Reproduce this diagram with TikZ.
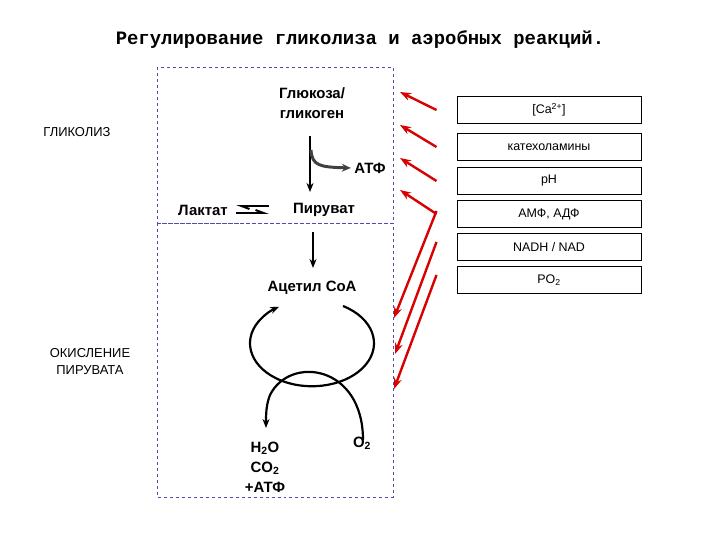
\documentclass[tikz,border=0pt]{standalone}
\usepackage{fontspec}
\setmainfont{Liberation Sans}
\newfontfamily\titlefont{Liberation Mono}
\usetikzlibrary{arrows.meta}
\begin{document}
\begin{tikzpicture}[x=1bp,y=-1bp,
  big/.style={font=\bfseries\fontsize{15}{17}\selectfont},
  fbox/.style={draw,line width=1pt,minimum width=184bp,minimum height=27bp,inner sep=0pt,font=\fontsize{12.5}{14}\selectfont},
  dbox/.style={draw=blue!40!gray,dashed,line width=0.8pt},
  red/.style={draw=red!85!black,line width=2.4pt,-{Stealth[length=11bp,width=8bp]}}]
\useasboundingbox (0,0) rectangle (720,540);
\node[font=\titlefont\bfseries\fontsize{19}{21}\selectfont] (title) at (360,40) {Регулирование гликолиза и аэробных реакций.};
\draw[dbox] (157,67) rectangle (393,223);
\draw[dbox] (157,223) rectangle (393,497);
\node[font=\fontsize{13}{15}\selectfont] (gl) at (77,132) {ГЛИКОЛИЗ};
\node[font=\fontsize{13}{17}\selectfont,align=center] (ox) at (90,362) {ОКИСЛЕНИЕ\\ПИРУВАТА};
\node[align=center,font=\bfseries\fontsize{15}{20}\selectfont] (glu) at (312,103) {Глюкоза/\\гликоген};
\node[big] (atp) at (370,168) {АТФ};
\node[big] (lac) at (203,210) {Лактат};
\node[big] (pyr) at (324,210) {Пируват};
\node[big] (aca) at (312,288) {Ацетил CoA};
\node[align=center,font=\bfseries\fontsize{15}{20}\selectfont] (h2o) at (265,467) {H\textsubscript{2}O\\CO\textsubscript{2}\\+АТФ};
\node[big] (o2) at (362,443) {O\textsubscript{2}};
\coordinate (g1) at (310,136);
\coordinate (g2) at (310,192);
\draw[line width=1.8pt,-{Stealth[length=9bp,width=7bp]}] (g1) -- (g2);
\draw[line width=3pt,draw=black!75,-{Stealth[length=9bp,width=8bp]}] (311,150) .. controls (312,166) and (320,167) .. (atp.west);
\draw[line width=1.8pt,-{Stealth[length=9bp,width=7bp]}] (313,232) -- (313,268);
\draw[line width=2pt,-{Straight Barb[left,length=8bp,width=6bp]}] (269,206) -- (236,206);
\draw[line width=2pt,-{Straight Barb[left,length=8bp,width=6bp]}] (236,213) -- (269,213);
\draw[line width=2.2pt,-{Stealth[length=9bp,width=7bp]}] (343,306) arc[start angle=-60,end angle=238,x radius=62,y radius=43];
\draw[line width=2.2pt,-{Stealth[length=9bp,width=7bp]}] (363,440) .. controls (363,365) and (290,355) .. (270,395) .. controls (266,405) and (266,415) .. (266,428);
\node[fbox] (ca) at (549,110) {[Ca\textsuperscript{2+}]};
\node[fbox] (cat) at (549,147) {катехоламины};
\node[fbox] (ph) at (549,181) {pH};
\node[fbox] (amf) at (549,214) {АМФ, АДФ};
\node[fbox] (nadh) at (549,247) {NADH / NAD};
\node[fbox] (po) at (549,280) {PO\textsubscript{2}};
\coordinate (t1) at (400,92);
\coordinate (t2) at (400,125);
\coordinate (t3) at (400,158);
\coordinate (t4) at (400,190);
\coordinate (t5) at (394,318);
\coordinate (t6) at (395,354);
\coordinate (t7) at (394,389);
\draw[red] ([xshift=-20bp]ca.west) -- (t1);
\draw[red] ([xshift=-20bp]cat.west) -- (t2);
\draw[red] ([xshift=-20bp]ph.west) -- (t3);
\draw[red] ([xshift=-20bp]amf.west) -- (t4);
\draw[red] ([xshift=-20bp,yshift=3bp]amf.west) -- (t5);
\draw[red] ([xshift=-20bp,yshift=5bp]nadh.west) -- (t6);
\draw[red] ([xshift=-20bp,yshift=5bp]po.west) -- (t7);
\end{tikzpicture}
\end{document}
